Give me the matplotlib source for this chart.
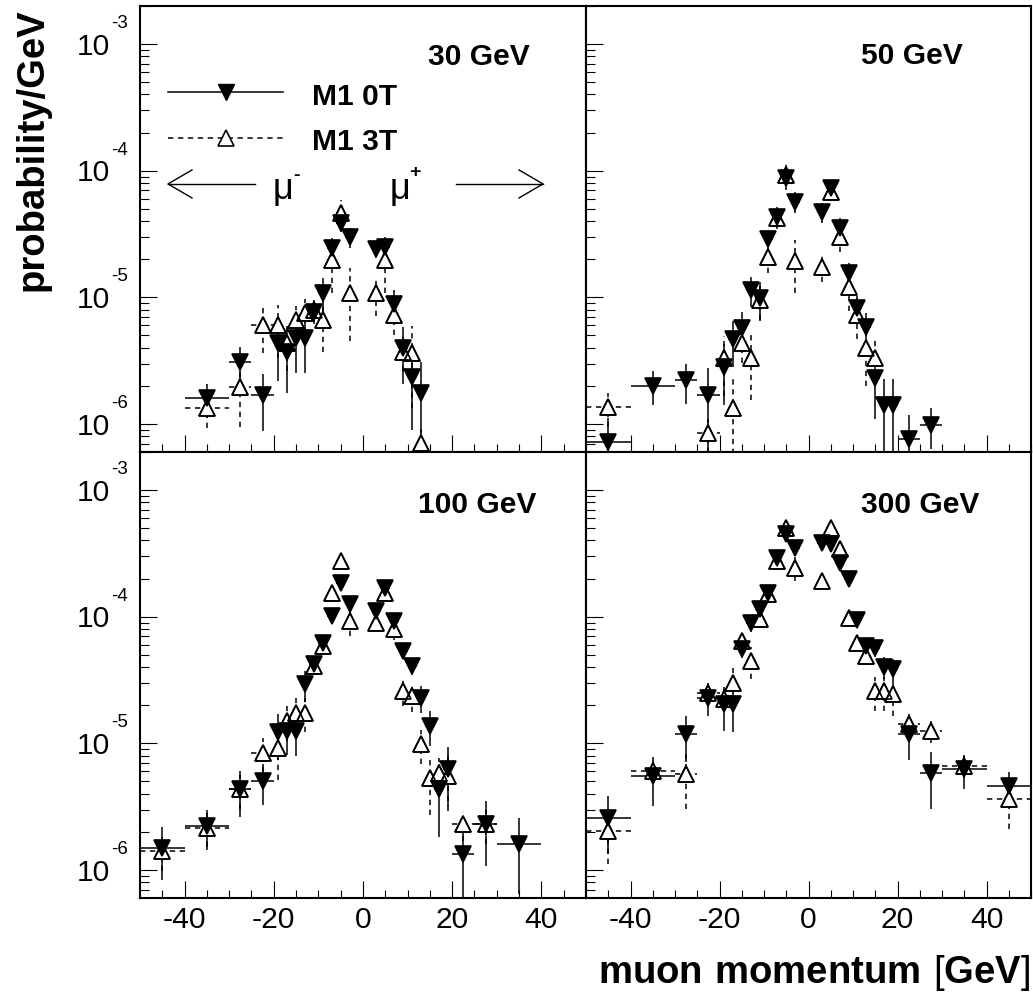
import numpy as np
import matplotlib
matplotlib.use('Agg')
import matplotlib.pyplot as plt
import matplotlib.transforms as mtransforms
from matplotlib.ticker import LogLocator, MultipleLocator, NullFormatter

plt.rcParams['font.family'] = ['Liberation Sans', 'DejaVu Sans']
plt.rcParams['mathtext.fontset'] = 'custom'
plt.rcParams['mathtext.rm'] = 'Liberation Sans'
plt.rcParams['mathtext.bf'] = 'Liberation Sans:bold'
plt.rcParams['axes.unicode_minus'] = False

# bin centres and half widths (GeV)
x = [-45, -35, -27.5, -22.5, -19, -17, -15, -13, -11, -9, -7, -5, -3,
     3, 5, 7, 9, 11, 13, 15, 17, 19, 22.5, 27.5, 35, 45]
xerr = [5, 5, 2.5, 2.5, 1, 1, 1, 1, 1, 1, 1, 1, 1,
        1, 1, 1, 1, 1, 1, 1, 1, 1, 2.5, 2.5, 5, 5]

# 30 GeV
m0_30 = [None, 1.60e-6, 3.10e-6, 1.69e-6, 4.34e-6, 3.72e-6, 4.75e-6, 4.75e-6, 7.71e-6, 1.09e-5, 2.44e-5, 3.84e-5, 2.98e-5,
         2.39e-5, 2.51e-5, 8.85e-6, 3.95e-6, 2.36e-6, 1.75e-6, None, None, None, None, None, None, None]
e0_30 = [None, 0.3, 0.31, 0.48, 0.5, 0.53, 0.47, 0.47, 0.2, 0.3, 0.2, 0.15, 0.18,
         0.15, 0.2, 0.29, 0.48, 0.62, 0.75, None, None, None, None, None, None, None]
m3_30 = [None, 1.33e-6, 1.97e-6, 6.05e-6, 6.05e-6, 4.34e-6, 6.62e-6, 7.48e-6, 7.94e-6, 6.62e-6, 1.97e-5, 4.60e-5, 1.08e-5,
         1.08e-5, 1.97e-5, 7.24e-6, 3.72e-6, 3.61e-6, 7.05e-7, None, None, None, None, None, None, None]
e3_30 = [None, 0.3, 0.52, 0.4, 0.45, 0.4, 0.3, 0.3, 0.2, 0.44, 0.45, 0.27, 0.58,
         0.34, 0.45, 0.3, 0.3, 0.63, 0.3, None, None, None, None, None, None, None]

# 50 GeV
m0_50 = [7.24e-7, 2.0e-6, 2.22e-6, 1.69e-6, 2.83e-6, 4.67e-6, 5.69e-6, 1.14e-5, 9.82e-6, 2.87e-5, 4.34e-5, 8.71e-5, 5.69e-5,
         4.69e-5, 7.26e-5, 3.55e-5, 1.55e-5, 8.18e-6, 5.86e-6, 2.29e-6, 1.41e-6, 1.41e-6, 7.59e-7, 9.82e-7, None, None]
e0_50 = [0.55, 0.3, 0.35, 0.65, 0.5, 0.4, 0.35, 0.27, 0.34, 0.18, 0.2, 0.12, 0.19,
         0.18, 0.13, 0.19, 0.2, 0.25, 0.28, 0.52, 0.6, 0.6, 0.55, 0.35, None, None]
m3_50 = [1.36e-6, None, None, 8.45e-7, 3.30e-6, 1.33e-6, 4.34e-6, 3.30e-6, 9.53e-6, 2.09e-5, 4.21e-5, 9.25e-5, 1.95e-5,
         1.75e-5, 6.82e-5, 3.01e-5, 1.21e-5, 7.26e-6, 3.95e-6, 3.30e-6, None, None, None, None, None, None]
e3_50 = [0.3, None, None, 0.3, 0.5, 0.7, 0.3, 0.53, 0.3, 0.26, 0.15, 0.24, 0.45,
         0.25, 0.15, 0.24, 0.36, 0.36, 0.5, 0.4, None, None, None, None, None, None]

# 100 GeV
m0_100 = [1.50e-6, 2.22e-6, 4.34e-6, 5.05e-6, 1.22e-5, 1.25e-5, 1.25e-5, 2.92e-5, 4.21e-5, 6.24e-5, 1.01e-4, 1.86e-4, 1.25e-4,
          1.11e-4, 1.69e-4, 9.25e-5, 5.36e-5, 4.08e-5, 2.30e-5, 1.37e-5, 4.34e-6, 6.24e-6, 1.33e-6, 2.30e-6, 1.60e-6, None]
e0_100 = [0.45, 0.35, 0.4, 0.35, 0.4, 0.35, 0.36, 0.28, 0.15, 0.15, 0.12, 0.1, 0.1,
          0.1, 0.1, 0.12, 0.12, 0.15, 0.24, 0.31, 0.58, 0.5, 0.6, 0.53, 0.6, None]
m3_100 = [1.41e-6, 2.16e-6, 4.34e-6, 8.45e-6, 9.25e-6, 1.50e-5, 1.75e-5, 1.75e-5, 4.08e-5, 5.86e-5, 1.55e-4, 2.75e-4, 9.25e-5,
          8.97e-5, 1.55e-4, 7.94e-5, 2.59e-5, 2.37e-5, 9.82e-6, 5.36e-6, 5.87e-6, 5.52e-6, 2.30e-6, 2.30e-6, None, None]
e3_100 = [0.3, 0.3, 0.3, 0.3, 0.45, 0.31, 0.31, 0.3, 0.15, 0.15, 0.12, 0.1, 0.24,
          0.1, 0.1, 0.17, 0.24, 0.26, 0.3, 0.49, 0.3, 0.47, 0.27, 0.3, None, None]

# 300 GeV
m0_300 = [2.59e-6, 5.52e-6, 1.18e-5, 2.30e-5, 2.03e-5, 2.03e-5, 5.52e-5, 8.97e-5, 1.16e-4, 1.55e-4, 2.92e-4, 4.47e-4, 3.51e-4,
          3.79e-4, 3.72e-4, 2.67e-4, 1.97e-4, 9.42e-5, 5.86e-5, 5.62e-5, 4.04e-5, 3.89e-5, 1.18e-5, 5.79e-6, 6.24e-6, 4.60e-6]
e0_300 = [0.48, 0.42, 0.4, 0.29, 0.38, 0.4, 0.15, 0.15, 0.12, 0.1, 0.1, 0.08, 0.08,
          0.08, 0.08, 0.08, 0.1, 0.12, 0.15, 0.15, 0.2, 0.2, 0.38, 0.48, 0.3, 0.3]
m3_300 = [2.03e-6, 6.05e-6, 5.69e-6, 2.51e-5, 2.23e-5, 3.01e-5, 6.43e-5, 4.47e-5, 9.53e-5, 1.50e-4, 2.75e-4, 5.05e-4, 2.44e-4,
          1.91e-4, 5.05e-4, 3.40e-4, 9.82e-5, 6.24e-5, 4.90e-5, 2.59e-5, 2.59e-5, 2.44e-5, 1.41e-5, 1.25e-5, 6.62e-6, 3.61e-6]
e3_300 = [0.45, 0.2, 0.47, 0.2, 0.2, 0.31, 0.15, 0.28, 0.1, 0.1, 0.08, 0.08, 0.22,
          0.08, 0.08, 0.1, 0.1, 0.12, 0.15, 0.3, 0.3, 0.33, 0.2, 0.2, 0.2, 0.42]

energies = ['30 GeV', '50 GeV', '100 GeV', '300 GeV']
DASH = (0, (3.5, 3))

W, H = 1033, 996
fig = plt.figure(figsize=(W / 100, H / 100), dpi=100)

# panel rectangles (pixels -> figure fraction)
rects = [(140, 6, 446), (586, 6, 445), (140, 452, 446), (586, 452, 445)]
axes = []
for (px, py, pw) in rects:
    ax = fig.add_axes([px / W, 1 - (py + 446) / H, pw / W, 446 / H])
    axes.append(ax)


def errors(ax, vals, rel, ls, z):
    v = np.array(vals, dtype=float)
    e = v * np.array(rel, dtype=float)
    lo = np.minimum(e, v * 0.999)
    eb = ax.errorbar(x, v, yerr=[lo, e], xerr=xerr, fmt='none', ecolor='k',
                     elinewidth=1.1, capsize=0, zorder=z)
    for lc in eb[2]:
        lc.set_linestyle(ls)


series = [(m0_30, e0_30, m3_30, e3_30), (m0_50, e0_50, m3_50, e3_50),
          (m0_100, e0_100, m3_100, e3_100), (m0_300, e0_300, m3_300, e3_300)]
label_pos = [(0.646, 0.868), (0.618, 0.870), (0.623, 0.8626), (0.618, 0.8626)]

for i, ax in enumerate(axes):
    m0, e0, m3, e3 = series[i]
    v0 = np.array(m0, dtype=float)
    v3 = np.array(m3, dtype=float)
    errors(ax, m0, e0, '-', 2)
    errors(ax, m3, e3, DASH, 2)
    # open markers: white inside hides error lines, outline redrawn on top
    ax.plot(x, v3, ls='none', marker='^', ms=11, mfc='white', mec='k', mew=1.2, zorder=3)
    ax.plot(x, v0, ls='none', marker='v', ms=11, mfc='k', mec='k', mew=1.2, zorder=4)
    ax.plot(x, v3, ls='none', marker='^', ms=11, mfc='none', mec='k', mew=1.2, zorder=5)
    ax.set_yscale('log')
    ax.set_xlim(-50, 50)
    ax.set_ylim(6.0e-7, 2.0e-3)
    ax.xaxis.set_major_locator(MultipleLocator(20))
    ax.xaxis.set_minor_locator(MultipleLocator(5))
    ax.yaxis.set_major_locator(LogLocator(base=10))
    ax.yaxis.set_minor_locator(LogLocator(base=10, subs=np.arange(2, 10)))
    ax.yaxis.set_major_formatter(NullFormatter())
    ax.yaxis.set_minor_formatter(NullFormatter())
    ax.tick_params(which='both', direction='in', top=False, right=False, width=0.8)
    ax.tick_params(axis='y', which='major', length=12)
    ax.tick_params(axis='y', which='minor', length=6.5)
    ax.tick_params(axis='x', which='major', length=12, labelsize=21.6, pad=6)
    ax.tick_params(axis='x', which='minor', length=5.8)
    if i < 2:
        ax.tick_params(axis='x', labelbottom=False)
    for s in ax.spines.values():
        s.set_linewidth(1.5)
    ax.text(label_pos[i][0], label_pos[i][1], energies[i], transform=ax.transAxes,
            fontsize=21.6, fontweight='bold', ha='left', va='baseline')

# y tick labels in ROOT style: "10" centred on the tick, exponent raised
for ax in (axes[0], axes[2]):
    tr = mtransforms.blended_transform_factory(ax.transAxes, ax.transData)
    for ex in [-3, -4, -5, -6]:
        t1 = mtransforms.offset_copy(tr, fig=fig, x=-30, y=-10.7, units='dots')
        ax.text(0, 10.0 ** ex, '10', transform=t1, fontsize=21.6, ha='right', va='baseline')
        t2 = mtransforms.offset_copy(tr, fig=fig, x=-28.5, y=16, units='dots')
        ax.text(0, 10.0 ** ex, str(ex), transform=t2, fontsize=13.5, ha='left', va='baseline')

# legend and arrows in the 30 GeV panel
a0 = axes[0]
T = a0.transAxes
a0.plot([0.0628, 0.3206], [0.807, 0.807], color='k', lw=1.1, transform=T)
a0.plot([0.1928], [0.807], marker='v', ms=11, mfc='k', mec='k', transform=T)
a0.plot([0.0628, 0.3206], [0.704, 0.704], color='k', lw=1.1, ls=DASH, transform=T)
a0.plot([0.1928], [0.704], marker='^', ms=11, mfc='white', mec='k', mew=1.2, transform=T)
a0.text(0.3857, 0.778, 'M1 0T', transform=T, fontsize=21.6, fontweight='bold', va='baseline')
a0.text(0.3857, 0.677, 'M1 3T', transform=T, fontsize=21.6, fontweight='bold', va='baseline')

ay = 0.601
hx, hy = 0.0538, 0.0314
a0.plot([0.258, 0.0628], [ay, ay], color='k', lw=1.0, transform=T)
a0.plot([0.0628 + hx, 0.0628, 0.0628 + hx], [ay + hy, ay, ay - hy], color='k', lw=1.0, transform=T)
a0.plot([0.7085, 0.9036], [ay, ay], color='k', lw=1.0, transform=T)
a0.plot([0.9036 - hx, 0.9036, 0.9036 - hx], [ay + hy, ay, ay - hy], color='k', lw=1.0, transform=T)
a0.text(0.320, ay - 0.012, '\u03bc', transform=T, fontsize=26, ha='center', va='center')
a0.text(0.3505, ay + 0.02, '-', transform=T, fontsize=14, fontweight='bold', ha='center', va='center')
a0.text(0.582, ay - 0.012, '\u03bc', transform=T, fontsize=26, ha='center', va='center')
a0.text(0.6165, ay + 0.025, '+', transform=T, fontsize=14, fontweight='bold', ha='center', va='center')

# axis titles
fig.text(1030 / W, 1 - 983 / H, r'$\mathbf{muon\ momentum}\ [\mathbf{GeV}]$', fontsize=27.5,
         ha='right', va='baseline')
fig.text(51 / W, 1 - 8 / H, 'probability/GeV', fontsize=27.5, fontweight='bold',
         rotation=90, ha='right', va='top')

fig.savefig('out.png', dpi=100)
